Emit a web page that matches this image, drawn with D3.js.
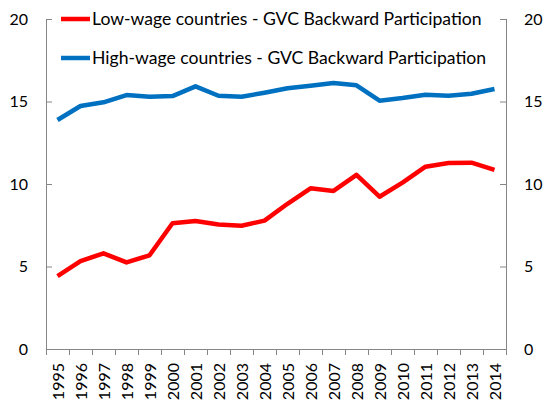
<!DOCTYPE html>
<html>
<head>
<meta charset="utf-8">
<script src="https://cdn.jsdelivr.net/npm/d3@7"></script>
<style>
  body { margin: 0; background: #fff; }
  text { font-family: Lato, "Open Sans", sans-serif; fill: #000; }
</style>
</head>
<body>
<svg></svg>
<script>
var years = ["1995","1996","1997","1998","1999","2000","2001","2002","2003","2004",
             "2005","2006","2007","2008","2009","2010","2011","2012","2013","2014"];
var lowWage = [4.42, 5.33, 5.8, 5.25, 5.68, 7.62, 7.76, 7.54, 7.47, 7.78,
               8.8, 9.74, 9.58, 10.55, 9.23, 10.08, 11.05, 11.27, 11.29, 10.85];
var highWage = [13.88, 14.73, 14.95, 15.39, 15.29, 15.33, 15.92, 15.35, 15.29, 15.53,
                15.8, 15.96, 16.12, 15.98, 15.05, 15.21, 15.41, 15.35, 15.47, 15.76];
var yTicks = [0, 5, 10, 15, 20];
var seriesNames = ["Low-wage countries - GVC Backward Participation",
                   "High-wage countries - GVC Backward Participation"];
var seriesColors = ["#ff0000", "#0070c0"];

var screen = { width: 558, height: 412 };
var margins = { left: 46, right: 52, top: 19, bottom: 63 }; //plot area box

var svg = d3.select("svg")
            .attr("width", screen.width)
            .attr("height", screen.height);

var x = d3.scaleBand()
          .domain(years)
          .range([margins.left, screen.width - margins.right]);

var y = d3.scaleLinear()
          .domain([0, 20])
          .range([screen.height - margins.bottom, margins.top]);

var axisColor = "#868686";

//left axis, ticks inside
var leftAxis = svg.append("g")
   .attr("transform", "translate(" + margins.left + ",0)")
   .call(d3.axisRight(y).tickValues(yTicks).tickSize(6));
leftAxis.selectAll("text").attr("text-anchor", "end").attr("x", -18).style("font-size", "16px");

//right axis, ticks inside
var rightAxis = svg.append("g")
   .attr("transform", "translate(" + (screen.width - margins.right) + ",0)")
   .call(d3.axisLeft(y).tickValues(yTicks).tickSize(6));
rightAxis.selectAll("text").attr("text-anchor", "start").attr("x", 18).style("font-size", "16px");

[leftAxis, rightAxis].forEach(function(g) {
  g.select(".domain").attr("stroke", axisColor).attr("d", function() {
    return "M0.5," + y(20) + "V" + y(0);
  });
  g.selectAll(".tick line").attr("stroke", axisColor);
});

//x axis: ticks between categories
var xg = svg.append("g")
   .attr("transform", "translate(0," + y(0) + ")");
xg.append("line")
  .attr("x1", x.range()[0]).attr("x2", x.range()[1])
  .attr("y1", 0.5).attr("y2", 0.5)
  .attr("stroke", axisColor);
xg.selectAll(".xtick")
  .data(years.concat(["end"]))
  .enter()
  .append("line")
  .attr("x1", function(d, i) { return x.range()[0] + i * x.step() + 0.5; })
  .attr("x2", function(d, i) { return x.range()[0] + i * x.step() + 0.5; })
  .attr("y1", 0)
  .attr("y2", 6)
  .attr("stroke", axisColor);
xg.selectAll(".xlabel")
  .data(years)
  .enter()
  .append("text")
  .attr("transform", function(d) {
    return "translate(" + (x(d) + x.bandwidth() / 2 + 6) + ",14) rotate(-90)";
  })
  .attr("text-anchor", "end")
  .style("font-size", "16px")
  .text(function(d) { return d; });

//lines
var line = d3.line()
  .x(function(d, i) { return x(years[i]) + x.bandwidth() / 2; })
  .y(function(d) { return y(d); });

[lowWage, highWage].forEach(function(vals, k) {
  svg.append("path")
     .datum(vals)
     .attr("d", line)
     .attr("fill", "none")
     .attr("stroke", seriesColors[k])
     .attr("stroke-width", 4.5)
     .attr("stroke-linejoin", "round");
});

//legend
var legend = svg.append("g");
seriesNames.forEach(function(name, k) {
  var ly = 19 + k * 39;
  legend.append("line")
        .attr("x1", 61).attr("x2", 90)
        .attr("y1", ly).attr("y2", ly)
        .attr("stroke", seriesColors[k])
        .attr("stroke-width", 4.5);
  legend.append("text")
        .attr("x", 92)
        .attr("y", ly + 6)
        .style("font-size", "17.6px")
        .text(name);
});
</script>
</body>
</html>
